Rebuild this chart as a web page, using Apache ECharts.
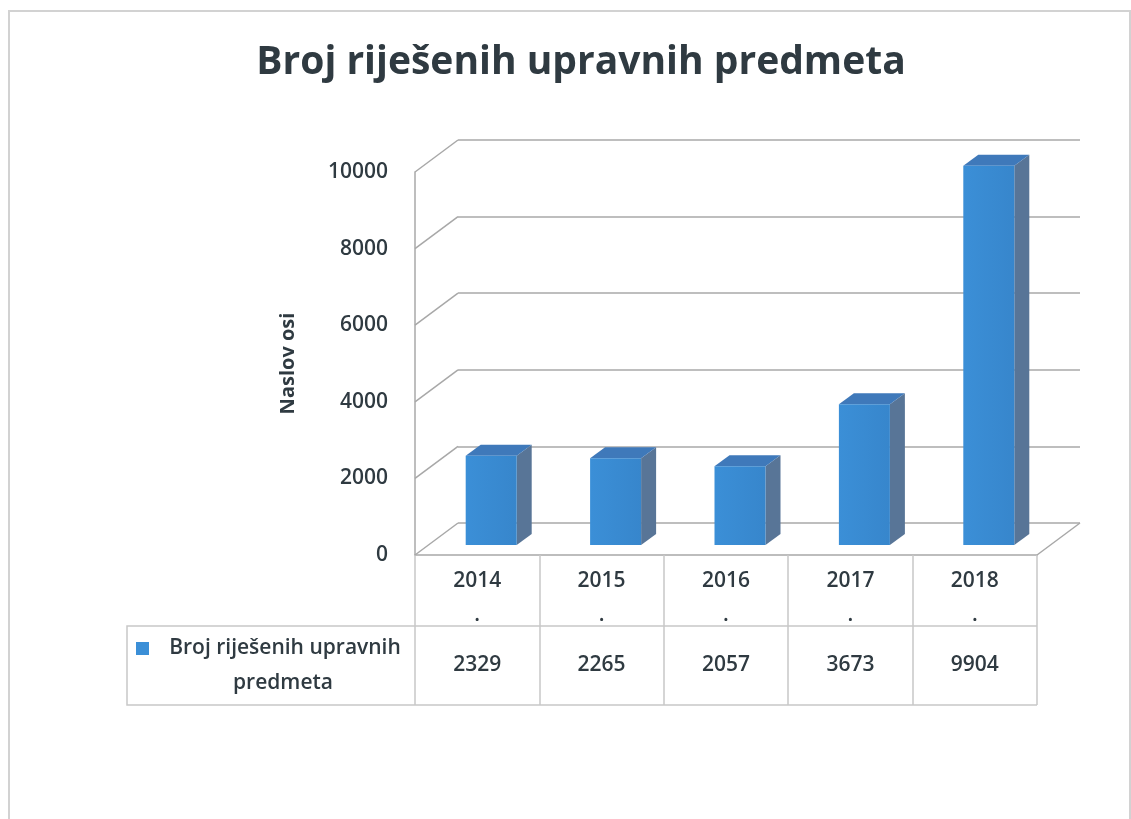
<!DOCTYPE html>
<html>
<head>
<meta charset="utf-8">
<script src="https://cdn.jsdelivr.net/npm/echarts@6/dist/echarts.min.js"></script>
<style>
  html, body { margin: 0; padding: 0; background: #fff; }
  #chart { width: 1131px; height: 819px; }
</style>
</head>
<body>
<div id="chart"></div>
<script>
const title = 'Broj riješenih upravnih predmeta';
const categories = ['2014.', '2015.', '2016.', '2017.', '2018.'];
const values = [2329, 2265, 2057, 3673, 9904];
const yTicks = [0, 2000, 4000, 6000, 8000, 10000];
const axisName = 'Naslov osi';

const textColor = '#2f3a41';
const font = '"Open Sans", "Noto Sans", sans-serif';
const depth = [43, -32];     // back wall offset from front plane
const barShift = [14, -10];  // bar front face offset
const barDepth = [15, -11];  // bar thickness

const chart = echarts.init(document.getElementById('chart'));

function renderWalls(params, api) {
  const cs = params.coordSys;
  const v = api.value(1);
  const y = api.coord([0, v])[1];
  const lineStyle = { stroke: '#a8a8a8', lineWidth: 1.5 };
  const children = [{
    type: 'line',
    shape: { x1: cs.x, y1: y, x2: cs.x + depth[0], y2: y + depth[1] },
    style: lineStyle
  }];
  if (v === 0) {
    const xr = cs.x + cs.width;
    children.push({
      type: 'line',
      shape: { x1: xr, y1: y, x2: xr + depth[0], y2: y + depth[1] },
      style: lineStyle
    });
  }
  return { type: 'group', children: children };
}

function renderBar(params, api) {
  const i = api.value(0);
  const p0 = api.coord([i, 0]);
  const p1 = api.coord([i, api.value(1)]);
  const w = api.size([1, 0])[0] * 0.41;
  const x1 = p0[0] - w / 2 + barShift[0];
  const x2 = x1 + w;
  const yb = p0[1] + barShift[1];
  const yt = p1[1] + barShift[1];
  const dx = barDepth[0], dy = barDepth[1];
  return {
    type: 'group',
    children: [
      {
        type: 'polygon',
        shape: { points: [[x2, yb], [x2 + dx, yb + dy], [x2 + dx, yt + dy], [x2, yt]] },
        style: { fill: '#587597' }
      },
      {
        type: 'polygon',
        shape: { points: [[x1, yt], [x1 + dx, yt + dy], [x2 + dx, yt + dy], [x2, yt]] },
        style: { fill: '#3f79ba' }
      },
      {
        type: 'rect',
        shape: { x: x1, y: yt, width: w, height: yb - yt },
        style: {
          fill: new echarts.graphic.LinearGradient(0, 0, 1, 0, [
            { offset: 0, color: '#3b8fd7' },
            { offset: 1, color: '#3786cc' }
          ])
        }
      }
    ]
  };
}

function renderTable(params, api) {
  const i = api.value(0);
  const p0 = api.coord([i, 0]);
  return {
    type: 'text',
    style: {
      x: p0[0],
      y: p0[1] + 110,
      text: String(api.value(1)),
      fill: textColor,
      font: '600 21px ' + font,
      align: 'center',
      verticalAlign: 'middle'
    }
  };
}

const option = {
  backgroundColor: '#fff',
  title: {
    text: title,
    left: 576,
    top: 38,
    textAlign: 'center',
    textStyle: {
      fontFamily: font,
      fontWeight: 'bold',
      fontSize: 39,
      color: textColor
    }
  },
  grid: [
    { left: 415, top: 172, width: 622, height: 383 },
    { left: 458, top: 140, width: 622, height: 383 }
  ],
  xAxis: [
    {
      type: 'category',
      gridIndex: 0,
      data: categories,
      axisLine: { lineStyle: { color: '#a8a8a8', width: 1.5 } },
      axisTick: { show: true, length: 150, lineStyle: { color: '#c8c8c8', width: 1.5 } },
      axisLabel: {
        margin: 9,
        color: textColor,
        fontFamily: font,
        fontWeight: 600,
        fontSize: 21,
        lineHeight: 34,
        formatter: function (v) { return v.replace('.', '\n.'); }
      }
    },
    {
      type: 'category',
      gridIndex: 1,
      data: categories,
      show: false
    }
  ],
  yAxis: [
    {
      type: 'value',
      gridIndex: 0,
      min: 0,
      max: 10000,
      interval: 2000,
      name: axisName,
      nameLocation: 'middle',
      nameRotate: 90,
      nameGap: 117,
      nameTextStyle: { color: textColor, fontFamily: font, fontWeight: 'bold', fontSize: 20 },
      axisLine: { show: true, lineStyle: { color: '#a8a8a8', width: 1.5 } },
      axisTick: { show: false },
      splitLine: { show: false },
      axisLabel: {
        margin: 27,
        color: textColor,
        fontFamily: font,
        fontWeight: 600,
        fontSize: 21,
        formatter: function (v) { return String(v); }
      }
    },
    {
      type: 'value',
      gridIndex: 1,
      min: 0,
      max: 10000,
      interval: 2000,
      axisLine: { show: false },
      axisTick: { show: false },
      axisLabel: { show: false },
      splitLine: { show: true, lineStyle: { color: '#a8a8a8', width: 1.5 } }
    }
  ],
  graphic: [
    {
      type: 'rect',
      shape: { x: 9, y: 11, width: 1121, height: 830 },
      style: { fill: 'none', stroke: '#d2d2d2', lineWidth: 2 },
      silent: true
    },
    {
      type: 'polyline',
      shape: { points: [[1037, 626], [127, 626], [127, 705], [1037, 705]] },
      style: { fill: 'none', stroke: '#c8c8c8', lineWidth: 1.5 }
    },
    {
      type: 'rect',
      shape: { x: 136, y: 642, width: 13, height: 13 },
      style: { fill: '#3b8fd7' }
    },
    {
      type: 'text',
      style: {
        x: 285, y: 648, text: 'Broj riješenih upravnih',
        fill: textColor, font: '600 21px ' + font, align: 'center', verticalAlign: 'middle'
      }
    },
    {
      type: 'text',
      style: {
        x: 283, y: 683, text: 'predmeta',
        fill: textColor, font: '600 21px ' + font, align: 'center', verticalAlign: 'middle'
      }
    }
  ],
  series: [
    {
      name: 'walls',
      type: 'custom',
      xAxisIndex: 0,
      yAxisIndex: 0,
      silent: true,
      clip: false,
      renderItem: renderWalls,
      data: yTicks.map(v => [0, v]),
      z: 1
    },
    {
      name: title,
      type: 'custom',
      xAxisIndex: 0,
      yAxisIndex: 0,
      clip: false,
      renderItem: renderBar,
      data: values.map((v, i) => [i, v]),
      z: 3
    },
    {
      name: 'table',
      type: 'custom',
      xAxisIndex: 0,
      yAxisIndex: 0,
      silent: true,
      clip: false,
      renderItem: renderTable,
      data: values.map((v, i) => [i, v]),
      z: 3
    }
  ]
};

chart.setOption(option);
window.addEventListener('resize', chart.resize);
</script>
</body>
</html>
